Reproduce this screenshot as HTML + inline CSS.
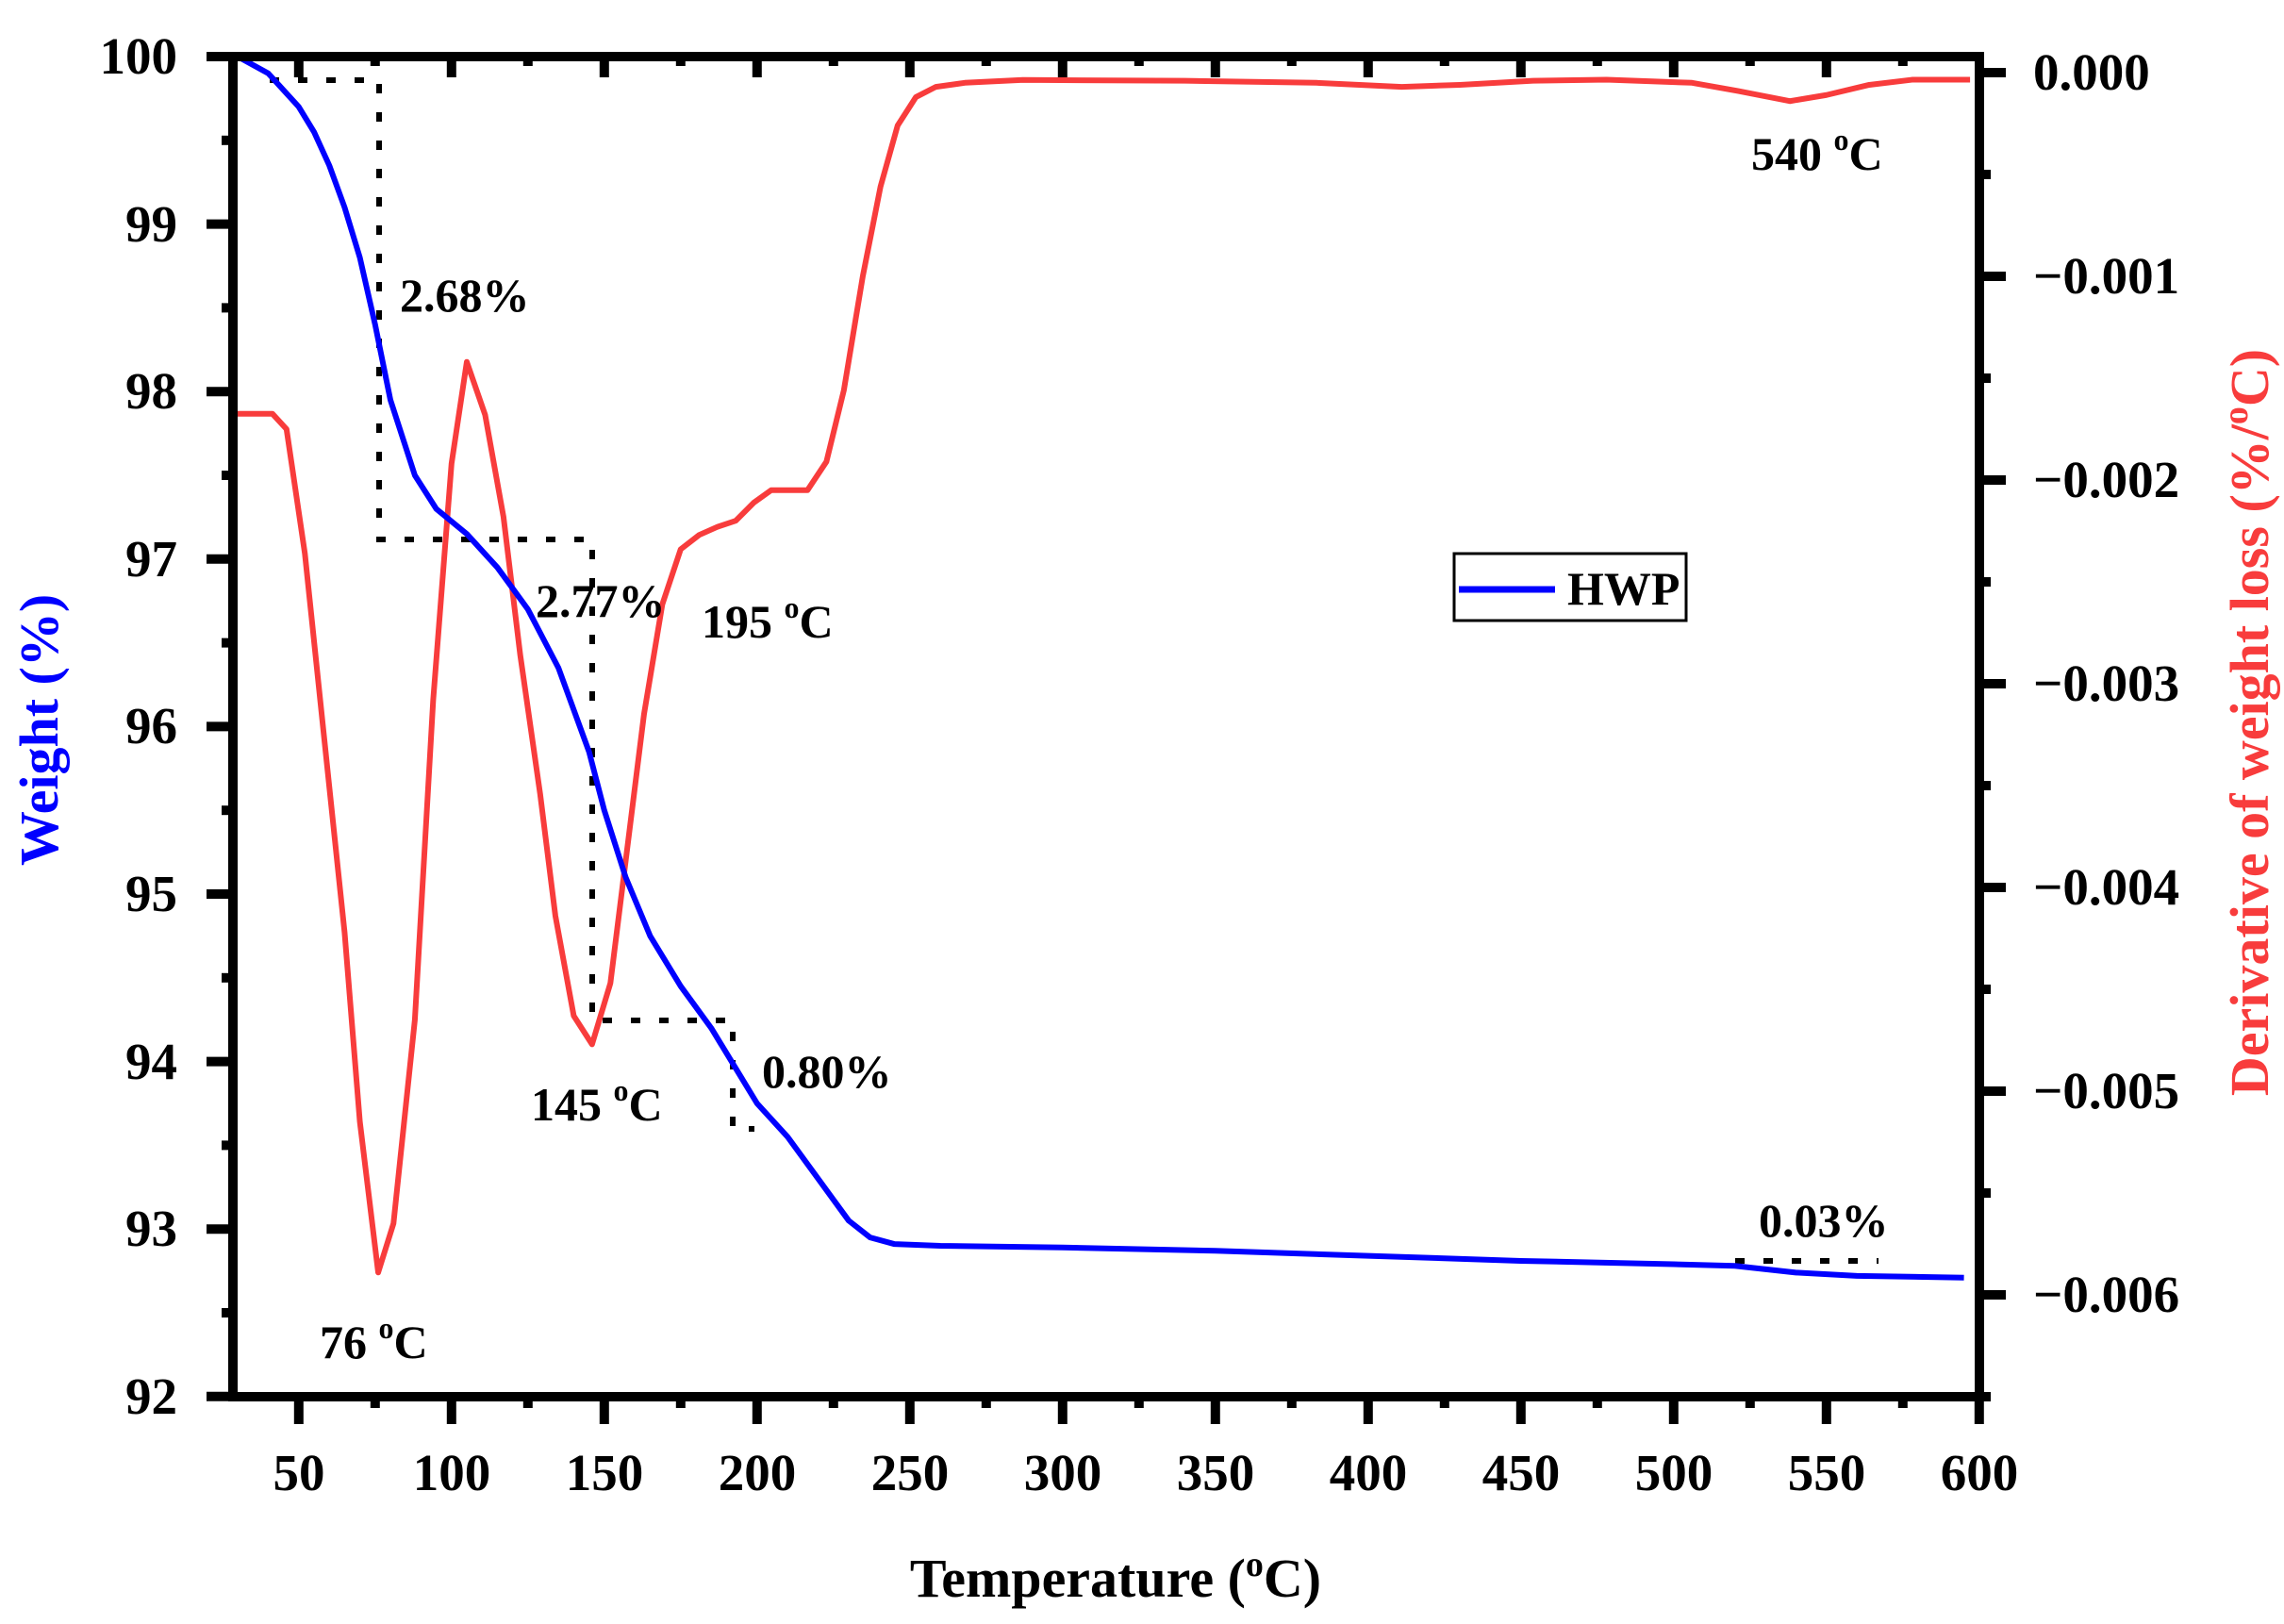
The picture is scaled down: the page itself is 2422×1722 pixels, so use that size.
<!DOCTYPE html>
<html><head><meta charset="utf-8"><style>html,body{margin:0;padding:0;background:#fff}svg{display:block}text{font-family:"Liberation Serif",serif;font-weight:bold}</style></head><body>
<svg width="2422" height="1722" viewBox="0 0 2422 1722" xmlns="http://www.w3.org/2000/svg">
<rect width="2422" height="1722" fill="#fff"/>
<g stroke="#000" stroke-width="6" stroke-dasharray="10 20" fill="none">
<path d="M286 85 H402 V572 H628 V1082 H777 V1197 H800"/>
<path d="M1840 1337 H1992"/>
</g>
<polyline vector-effect="non-scaling-stroke" transform="matrix(3.24 0 0 -216 154.8 77)" fill="none" stroke="#f83c3c" stroke-width="6" stroke-linejoin="round" points="30,-1.675 41.4,-1.675 46,-1.75 52,-2.36 58,-3.22 65,-4.22 70,-5.15 76,-5.89 81,-5.65 88,-4.65 94,-3.08 100,-1.92 105,-1.42 111,-1.68 117,-2.18 122.5,-2.86 129,-3.54 134,-4.14 140,-4.63 146,-4.77 152,-4.47 157,-3.87 163,-3.15 169,-2.61 175,-2.34 181,-2.27 187,-2.23 193,-2.2 199,-2.11 204.6,-2.05 211,-2.05 216.5,-2.05 222.7,-1.91 228.4,-1.56 234.6,-1.0 240.4,-0.56 246,-0.26 252,-0.12 258.5,-0.07 268,-0.05 287,-0.036 340,-0.04 383,-0.05 411,-0.07 430,-0.06 454,-0.04 478,-0.035 506,-0.05 521,-0.09 538,-0.14 550,-0.11 564,-0.06 578,-0.035 597,-0.035"/>
<polyline vector-effect="non-scaling-stroke" transform="matrix(3.24 0 0 -177.6 154.8 17820)" fill="none" stroke="#0000ff" stroke-width="6" stroke-linejoin="round" points="30,100 40,99.9 50,99.7 55,99.55 60,99.35 65,99.1 70,98.8 75,98.4 80,97.95 88,97.5 95,97.3 105,97.15 115,96.95 125,96.7 135,96.35 145,95.85 150,95.5 157,95.1 165,94.75 175,94.45 185,94.2 195,93.9 200,93.75 210,93.55 220,93.3 230,93.05 237,92.95 245,92.91 260,92.9 300,92.89 350,92.87 400,92.84 450,92.81 500,92.79 520,92.78 540,92.74 560,92.72 595,92.71"/>
<rect x="247" y="60" width="1852" height="1421" fill="none" stroke="#000" stroke-width="10"/>
<g stroke="#000" stroke-width="10" id="ticks"></g>
<g font-size="55" text-anchor="middle">
<text x="317" y="1580">50</text><text x="479" y="1580">100</text><text x="641" y="1580">150</text><text x="803" y="1580">200</text><text x="965" y="1580">250</text><text x="1127" y="1580">300</text><text x="1289" y="1580">350</text><text x="1451" y="1580">400</text><text x="1613" y="1580">450</text><text x="1775" y="1580">500</text><text x="1937" y="1580">550</text><text x="2099" y="1580">600</text>
</g>
<g font-size="55" text-anchor="end">
<text x="188" y="78">100</text><text x="188" y="256">99</text><text x="188" y="433">98</text><text x="188" y="611">97</text><text x="188" y="788">96</text><text x="188" y="966">95</text><text x="188" y="1144">94</text><text x="188" y="1321">93</text><text x="188" y="1499">92</text>
</g>
<g font-size="55" text-anchor="start">
<text x="2156" y="95">0.000</text><text x="2156" y="311">−0.001</text><text x="2156" y="527">−0.002</text><text x="2156" y="743">−0.003</text><text x="2156" y="959">−0.004</text><text x="2156" y="1175">−0.005</text><text x="2156" y="1391">−0.006</text>
</g>
<g font-size="50">
<text x="424" y="330">2.68%</text>
<text x="568" y="654">2.77%</text>
<text x="744" y="676">195 <tspan font-size="32" dy="-21">o</tspan><tspan dy="21">C</tspan></text>
<text x="563" y="1188">145 <tspan font-size="32" dy="-21">o</tspan><tspan dy="21">C</tspan></text>
<text x="339" y="1440">76 <tspan font-size="32" dy="-21">o</tspan><tspan dy="21">C</tspan></text>
<text x="808" y="1153">0.80%</text>
<text x="1865" y="1311">0.03%</text>
<text x="1857" y="180">540 <tspan font-size="32" dy="-21">o</tspan><tspan dy="21">C</tspan></text>
</g>
<rect x="1542" y="587" width="246" height="71" fill="#fff" stroke="#000" stroke-width="3"/>
<line x1="1547" y1="625" x2="1649" y2="625" stroke="#0000ff" stroke-width="7"/>
<text x="1662" y="641" font-size="50">HWP</text>
<text x="1183" y="1693" font-size="58" text-anchor="middle">Temperature (<tspan font-size="38" dy="-22">o</tspan><tspan dy="22">C)</tspan></text>
<text transform="translate(61 774) rotate(-90)" font-size="58" text-anchor="middle" fill="#0000ff">Weight (%)</text>
<text transform="translate(2405 766) rotate(-90)" font-size="58" text-anchor="middle" fill="#f83c3c">Derivative of weight loss (%/<tspan font-size="38" dy="-22">o</tspan><tspan dy="22">C)</tspan></text>
</svg>
<script>
var g=document.getElementById('ticks'),s='';
function L(a,b,c,d){s+='<line x1="'+a+'" y1="'+b+'" x2="'+c+'" y2="'+d+'"/>';}
for(var T=50;T<=600;T+=25){var x=3.24*T+154.8,maj=(T%50==0);
 L(x,1481,x,1481+(maj?29:12)); if(T<600)L(x,60,x,60+(maj?22:10));}
for(var w=92;w<=100;w+=0.5){var y=17820-177.6*w,maj=(Math.abs(w-Math.round(w))<0.01);
 L(247,y,247-(maj?28:12),y);}
for(var v=0;v>=-6.5;v-=0.5){var y=77-216*v,maj=(Math.abs(v-Math.round(v))<0.01);
 L(2099,y,2099+(maj?28:12),y);}
g.innerHTML=s;
</script>
</body></html>
